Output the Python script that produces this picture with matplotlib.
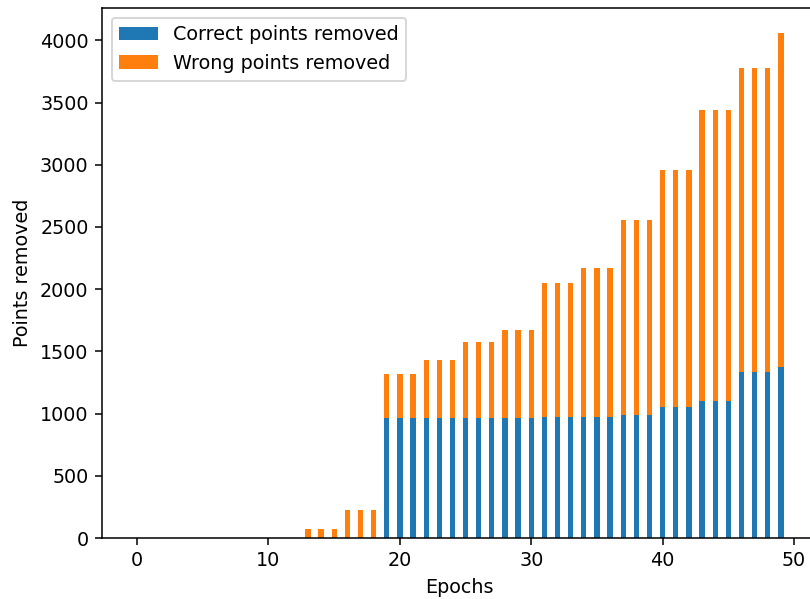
import numpy as np
import matplotlib
matplotlib.use("Agg")
import matplotlib.pyplot as plt

epochs = list(range(50))
correct = [0]*19 + [964]*3 + [964]*3 + [965]*3 + [968]*3 + [970]*3 + [975]*3 + [990]*3 + [1052]*3 + [1100]*3 + [1331]*3 + [1371]
wrong = [0]*13 + [70]*3 + [225]*3 + [353]*3 + [464]*3 + [612]*3 + [702]*3 + [1077]*3 + [1192]*3 + [1568]*3 + [1905]*3 + [2340]*3 + [2449]*3 + [2686]

DPI = 138
fig = plt.figure(figsize=(810/DPI, 599/DPI), dpi=DPI)
ax = fig.add_axes([102/810, 61/599, (816-102)/810, 530/599])
ax.bar(epochs, correct, width=0.4, label="Correct points removed")
ax.bar(epochs, wrong, width=0.4, bottom=correct, label="Wrong points removed")
ax.set_xlabel("Epochs")
ax.set_ylabel("Points removed")
ax.legend(loc="upper left")
fig.savefig("out.png", dpi=DPI)
